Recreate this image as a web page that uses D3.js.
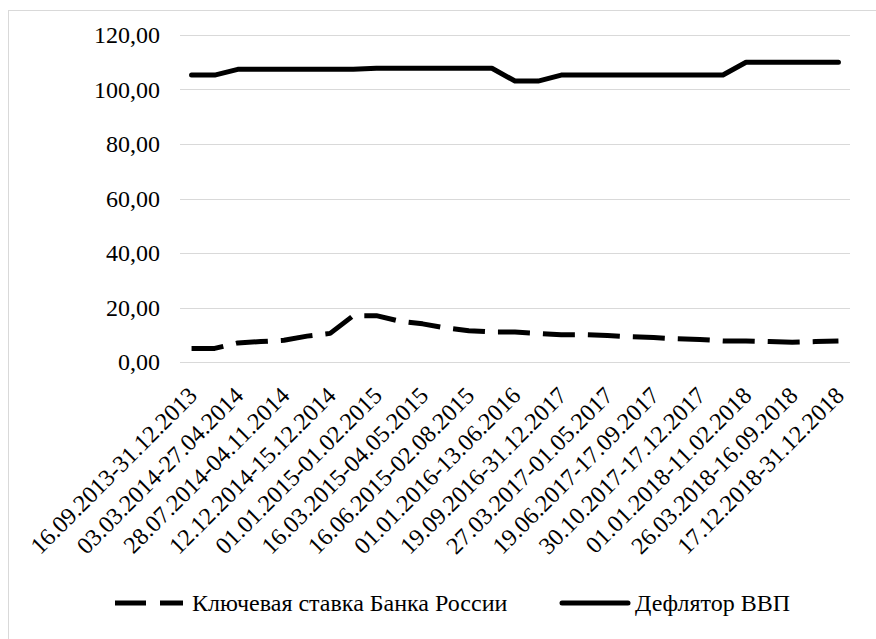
<!DOCTYPE html>
<html><head><meta charset="utf-8">
<script src="https://cdn.jsdelivr.net/npm/d3@7"></script>
</head><body style="margin:0"><svg id="c" width="876" height="639"></svg>
<script>
const categories = [
 "16.09.2013-31.12.2013","01.01.2014-02.03.2014","03.03.2014-27.04.2014","28.04.2014-27.07.2014",
 "28.07.2014-04.11.2014","05.11.2014-11.12.2014","12.12.2014-15.12.2014","16.12.2014-31.12.2014",
 "01.01.2015-01.02.2015","02.02.2015-15.03.2015","16.03.2015-04.05.2015","05.05.2015-15.06.2015",
 "16.06.2015-02.08.2015","03.08.2015-31.12.2015","01.01.2016-13.06.2016","14.06.2016-18.09.2016",
 "19.09.2016-31.12.2017","01.01.2017-26.03.2017","27.03.2017-01.05.2017","02.05.2017-18.06.2017",
 "19.06.2017-17.09.2017","18.09.2017-29.10.2017","30.10.2017-17.12.2017","18.12.2017-31.12.2017",
 "01.01.2018-11.02.2018","12.02.2018-25.03.2018","26.03.2018-16.09.2018","17.09.2018-16.12.2018",
 "17.12.2018-31.12.2018"];
const keyRate = [5.0,5.0,7.0,7.5,8.0,9.5,10.5,17,17,15,14,12.5,11.5,11,11,10.5,10,10,9.75,9.25,9,8.5,8.25,7.75,7.75,7.5,7.25,7.5,7.75];
const deflator = [105.3,105.3,107.4,107.4,107.4,107.4,107.4,107.4,107.8,107.8,107.8,107.8,107.8,107.8,103.1,103.1,105.3,105.3,105.3,105.3,105.3,105.3,105.3,105.3,110,110,110,110,110];
const yTicks = [0,20,40,60,80,100,120];
const seriesNames = ["Ключевая ставка Банка России","Дефлятор ВВП"];

const FONT = "Liberation Serif";
const FS = "24px";
const svg = d3.select("#c");
svg.append("rect").attr("x",8.5).attr("y",10.5).attr("width",900).attr("height",700)
  .attr("fill","none").attr("stroke","#d9d9d9");

const x = d3.scalePoint().domain(d3.range(categories.length)).range([180,850]).padding(0.5);
const y = d3.scaleLinear().domain([0,120]).range([362,35]);
const fmt = v => d3.format(".2f")(v).replace(".",",");

svg.append("g").selectAll("line").data(yTicks).join("line")
  .attr("x1",180).attr("x2",850).attr("y1",d=>Math.round(y(d))+0.5).attr("y2",d=>Math.round(y(d))+0.5)
  .attr("stroke","#d9d9d9").attr("stroke-width",1.2);

const yAxis = d3.axisLeft(y).tickValues(yTicks).tickFormat(fmt).tickSize(0).tickPadding(0);
const gy = svg.append("g").attr("transform","translate(160,0)").call(yAxis);
gy.attr("font-family",FONT).attr("font-size",24);
gy.select(".domain").remove();
gy.selectAll("text").attr("fill","#000").style("font-family",FONT).style("font-size",FS);

svg.append("g").selectAll("text").data(categories.map((c,i)=>({c,i})).filter(d=>d.i%2===0)).join("text")
  .style("font-family",FONT).style("font-size",FS)
  .attr("transform",d=>`translate(${x(d.i)-5},385) rotate(-45)`)
  .attr("text-anchor","end").attr("dy","0.71em").text(d=>d.c);

const line = d3.line().x((d,i)=>x(i)).y(d=>y(d));
svg.append("path").datum(deflator).attr("d",line).attr("fill","none").attr("stroke","#000")
  .attr("stroke-width",5).attr("stroke-linejoin","round").attr("stroke-linecap","round");
svg.append("path").datum(keyRate).attr("d",line).attr("fill","none").attr("stroke","#000")
  .attr("stroke-width",5).attr("stroke-dasharray","32,13").attr("stroke-linejoin","round");

const lg = svg.append("g");
lg.append("line").attr("x1",115).attr("x2",183).attr("y1",603).attr("y2",603)
  .attr("stroke","#000").attr("stroke-width",5).attr("stroke-dasharray","31,14");
lg.append("text").attr("x",192).attr("y",611).style("font-family",FONT).style("font-size",FS).text(seriesNames[0]);
lg.append("line").attr("x1",562).attr("x2",628).attr("y1",603).attr("y2",603)
  .attr("stroke","#000").attr("stroke-width",5).attr("stroke-linecap","round");
lg.append("text").attr("x",635).attr("y",611).style("font-family",FONT).style("font-size",FS).text(seriesNames[1]);
</script></body></html>
